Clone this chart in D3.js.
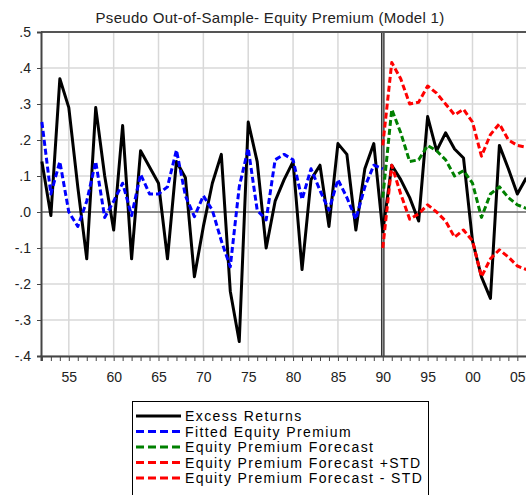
<!DOCTYPE html>
<html><head><meta charset="utf-8">
<script src="https://cdn.jsdelivr.net/npm/d3@7"></script>
<style>body{margin:0;background:#fff}svg{display:block}text{font-family:"Liberation Sans",Arial,sans-serif}</style>
</head><body><svg id="c" width="526" height="495"></svg>
<script>
const title = "Pseudo Out-of-Sample- Equity Premium (Model 1)";
const excessYears = d3.range(1952, 2007);
const excessReturns = [0.14, -0.01, 0.37, 0.29, 0.07, -0.13, 0.29, 0.10, -0.05, 0.24,
  -0.13, 0.17, 0.125, 0.08, -0.13, 0.14, 0.095, -0.18, -0.04, 0.08,
  0.16, -0.22, -0.36, 0.25, 0.14, -0.10, 0.03, 0.09, 0.14, -0.16,
  0.09, 0.13, -0.04, 0.19, 0.16, -0.05, 0.12, 0.19, -0.055, 0.13,
  0.09, 0.04, -0.025, 0.265, 0.17, 0.22, 0.175, 0.15, -0.08, -0.18,
  -0.24, 0.185, 0.12, 0.05, 0.095];
const fittedYears = d3.range(1952, 1991);
const fittedPremium = [0.25, 0.05, 0.14, 0.00, -0.04, 0.03, 0.14, -0.015, 0.03, 0.08,
  -0.01, 0.105, 0.05, 0.05, 0.07, 0.172, 0.045, -0.013, 0.045, 0.005,
  -0.08, -0.152, 0.07, 0.177, 0.005, -0.022, 0.145, 0.16, 0.145, 0.035,
  0.12, 0.06, 0.005, 0.09, 0.04, -0.02, 0.07, 0.13, 0.12];
const forecastYears = d3.range(1990, 2007);
const premiumForecast = [0.04, 0.285, 0.22, 0.14, 0.145, 0.185, 0.17, 0.145, 0.10, 0.115,
  0.08, -0.015, 0.05, 0.07, 0.04, 0.02, 0.01];
const forecastPlusStd = [0.185, 0.415, 0.37, 0.30, 0.305, 0.35, 0.33, 0.30, 0.27, 0.285,
  0.25, 0.155, 0.215, 0.245, 0.20, 0.185, 0.18];
const forecastMinusStd = [-0.10, 0.13, 0.05, -0.02, -0.005, 0.02, 0.0, -0.025, -0.07, -0.05,
  -0.08, -0.18, -0.13, -0.105, -0.125, -0.15, -0.16];
const yTicks = [0.5, 0.4, 0.3, 0.2, 0.1, 0.0, -0.1, -0.2, -0.3, -0.4];
const yTickLabels = [".5", ".4", ".3", ".2", ".1", ".0", "-.1", "-.2", "-.3", "-.4"];
const xTicks = [1955, 1960, 1965, 1970, 1975, 1980, 1985, 1990, 1995, 2000, 2005];
const xTickLabels = ["55", "60", "65", "70", "75", "80", "85", "90", "95", "00", "05"];
const seriesNames = ["Excess Returns", "Fitted Equity Premium", "Equity Premium Forecast",
  "Equity Premium Forecast +STD", "Equity Premium Forecast  - STD"];
const seriesColors = ["#000000", "#0000ff", "#008000", "#ff0000", "#ff0000"];
const splitYear = 1990;

const svg = d3.select("#c");
const L = 41, T = 32, B = 356, R = 529;
const x = d3.scaleLinear().domain([1951.9, 2006.3]).range([L, R]);
const y = d3.scaleLinear().domain([-0.4, 0.5]).range([B, T]);

// title
svg.append("text").attr("x", 270).attr("y", 23).attr("text-anchor", "middle")
  .style("font-size", "15px").style("letter-spacing", "0.3px").attr("fill", "#222").text(title);

// grid
const g = svg.append("g");
g.selectAll("line.hg").data(yTicks).join("line")
  .attr("x1", L).attr("x2", R).attr("y1", d => y(d)).attr("y2", d => y(d))
  .attr("stroke", "#d8d8d8").attr("stroke-width", 1.5);
g.selectAll("line.vg").data(xTicks.filter(d => d !== splitYear)).join("line")
  .attr("x1", d => x(d)).attr("x2", d => x(d)).attr("y1", T).attr("y2", B)
  .attr("stroke", "#d8d8d8").attr("stroke-width", 1.5);
// zero line
g.append("line").attr("x1", L).attr("x2", R).attr("y1", y(0)).attr("y2", y(0))
  .attr("stroke", "#333").attr("stroke-width", 1);
// split line
g.append("line").attr("x1", x(splitYear)).attr("x2", x(splitYear)).attr("y1", T).attr("y2", B)
  .attr("stroke", "#333").attr("stroke-width", 3.6);
g.append("line").attr("x1", x(splitYear)).attr("x2", x(splitYear)).attr("y1", T).attr("y2", B)
  .attr("stroke", "#bbb").attr("stroke-width", 1);

// frame
svg.append("line").attr("x1", L).attr("x2", R).attr("y1", T).attr("y2", T).attr("stroke", "#555").attr("stroke-width", 2);

// axes
const yAxis = d3.axisLeft(y).tickValues(yTicks).tickSize(4)
  .tickFormat((d, i) => yTickLabels[i]);
const ya = svg.append("g").attr("transform", `translate(${L},0)`).call(yAxis);
ya.select(".domain").attr("stroke", "#444").attr("stroke-width", 2);
ya.selectAll(".tick line").attr("stroke", "#444");
ya.selectAll("text").attr("x", -10).style("font-size", "14px").attr("fill", "#222")
  .style("font-family", '"Liberation Sans",Arial,sans-serif');

const xMinor = d3.axisBottom(x).tickValues(excessYears).tickSize(5).tickFormat("");
const xm = svg.append("g").attr("transform", `translate(0,${B})`).call(xMinor);
xm.select(".domain").attr("stroke", "#444").attr("stroke-width", 2);
xm.selectAll(".tick line").attr("stroke", "#444");
const xAxis = d3.axisBottom(x).tickValues(xTicks).tickSize(0).tickFormat((d, i) => xTickLabels[i]);
const xa = svg.append("g").attr("transform", `translate(0,${B})`).call(xAxis);
xa.select(".domain").remove();
xa.selectAll("text").attr("y", 16).style("font-size", "14px").attr("fill", "#222")
  .style("font-family", '"Liberation Sans",Arial,sans-serif');

// series
const line = d3.line().x(d => x(d[0])).y(d => y(d[1]));
const series = [
  [excessYears, excessReturns, null],
  [fittedYears, fittedPremium, "6,3"],
  [forecastYears, premiumForecast, "6,3"],
  [forecastYears, forecastPlusStd, "6,3"],
  [forecastYears, forecastMinusStd, "6,3"]
];
series.forEach(([yrs, vals, dash], i) => {
  svg.append("path").datum(yrs.map((yr, j) => [yr, vals[j]]))
    .attr("d", line).attr("fill", "none").attr("stroke", seriesColors[i])
    .attr("stroke-width", 3).attr("stroke-linejoin", "round")
    .attr("stroke-dasharray", dash);
});

// legend
const lg = svg.append("g");
lg.append("rect").attr("x", 132.5).attr("y", 401.5).attr("width", 296).attr("height", 120)
  .attr("fill", "#fff").attr("stroke", "#000").attr("stroke-width", 1);
seriesNames.forEach((name, i) => {
  const cy = 416 + i * 15.5;
  lg.append("line").attr("x1", 136).attr("x2", 181).attr("y1", cy).attr("y2", cy)
    .attr("stroke", seriesColors[i]).attr("stroke-width", 3)
    .attr("stroke-dasharray", i === 0 ? null : "8,4");
  lg.append("text").attr("x", 185).attr("y", cy + 5).style("font-size", "14px")
    .style("letter-spacing", "1.4px").attr("fill", "#000").text(name);
});
</script></body></html>
